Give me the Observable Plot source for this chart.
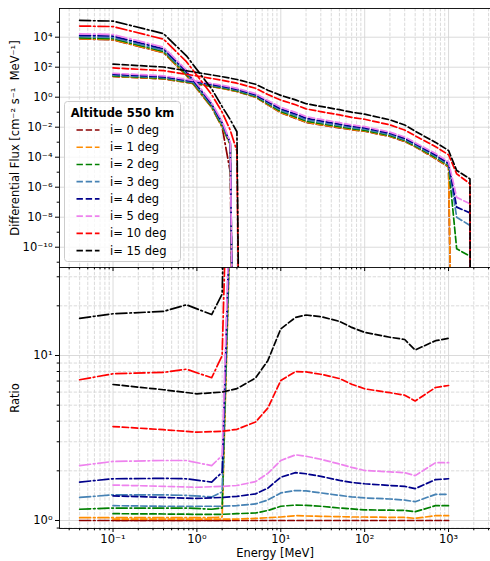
<!DOCTYPE html>
<html>
<head>
<meta charset="utf-8">
<script src="https://cdn.jsdelivr.net/npm/d3@7"></script>
<script src="https://cdn.jsdelivr.net/npm/@observablehq/plot@0.6"></script>
<style>
  body { margin: 0; background: #fff; }
  #fig { position: relative; width: 490px; height: 561px; overflow: hidden; background: #fff; font-family: "DejaVu Sans", sans-serif; }
  #fig > svg { position: absolute; left: 0; }
</style>
</head>
<body>
<div id="fig"></div>
<script>
// Inclinations and their colours
const inclinations = ["0", "1", "2", "3", "4", "5", "10", "15"];
const seriesColors = ["#8b0000", "#ff8c00", "#008000", "#4682b4", "#00008b", "#ee82ee", "#ff0000", "#000000"];
const legendTitle = "Altitude 550 km";

// Trapped electrons (dash-dot): energy grid [MeV], i = 0 flux, ratio to i = 0
const electronEnergy = [0.04, 0.1, 0.4, 0.75, 1.5, 2.0, 2.5];
const electronFlux0 = [7760, 6610, 933, 28.2, 0.204, 0.01, 1e-5];
const electronRatio = [
  [1, 1, 1, 1, 1, 1, 1],
  [1.04, 1.04, 1.04, 1.04, 1.04, 1.05, 63],
  [1.17, 1.19, 1.19, 1.19, 1.17, 1.19, 71],
  [1.38, 1.43, 1.43, 1.42, 1.39, 1.49, 79],
  [1.71, 1.79, 1.80, 1.79, 1.71, 1.96, 89],
  [2.15, 2.28, 2.31, 2.31, 2.15, 2.48, 100],
  [7.13, 7.75, 7.9, 8.26, 7.33, 10.0, 630],
  [16.8, 17.9, 18.5, 20.3, 17.7, 23.6, 3160]
];
// electron flux beyond the i = 0 cut-off (0 = no flux)
const electronTailEnergy = [3.0, 3.5];
const electronTail = [
  [0], [0], [0], [0], [0], [0],
  [2.5e-4, 0],
  [5e-3, 0]
];

// Trapped protons (dashed)
const protonEnergy = [0.1, 0.4, 1, 2, 3, 5, 7, 10, 15, 20, 30, 50, 70, 100, 200, 300, 400, 700, 1000];
const protonFlux0 = [24.0, 16.6, 7.59, 3.89, 2.40, 1.00, 0.316, 0.0912, 0.0389, 0.0209, 0.0141, 0.00912, 0.00676, 0.00537, 0.0024, 0.00112, 5.0e-4, 7.9e-5, 2.2e-5];
const protonRatio = [
  [1, 1, 1, 1, 1, 1, 1, 1, 1, 1, 1, 1, 1, 1, 1, 1, 1, 1, 1],
  [1.02, 1.02, 1.02, 1.02, 1.02, 1.03, 1.04, 1.05, 1.07, 1.065, 1.06, 1.055, 1.05, 1.05, 1.045, 1.045, 1.03, 1.07, 1.07],
  [1.10, 1.095, 1.09, 1.09, 1.10, 1.11, 1.15, 1.22, 1.24, 1.235, 1.22, 1.19, 1.175, 1.16, 1.155, 1.15, 1.13, 1.23, 1.23],
  [1.23, 1.22, 1.22, 1.22, 1.23, 1.26, 1.33, 1.47, 1.52, 1.51, 1.47, 1.42, 1.39, 1.37, 1.35, 1.33, 1.30, 1.44, 1.44],
  [1.41, 1.38, 1.36, 1.38, 1.40, 1.45, 1.57, 1.83, 1.95, 1.92, 1.85, 1.75, 1.70, 1.67, 1.63, 1.61, 1.56, 1.77, 1.79],
  [1.64, 1.61, 1.59, 1.61, 1.63, 1.72, 1.93, 2.31, 2.5, 2.45, 2.35, 2.2, 2.1, 2.01, 1.97, 1.95, 1.87, 2.24, 2.24],
  [3.71, 3.55, 3.43, 3.47, 3.57, 3.95, 4.8, 7.05, 8.0, 7.95, 7.7, 7.25, 6.7, 6.28, 5.95, 5.75, 5.3, 6.4, 6.58],
  [6.67, 6.2, 5.86, 6.0, 6.3, 7.3, 9.3, 14.5, 17.0, 17.6, 17.2, 16.1, 14.8, 13.8, 12.9, 12.5, 10.8, 12.3, 12.7]
];
// proton flux beyond the i = 0 cut-off (0 = no flux)
const protonTailEnergy = [1250, 1800, 1850];
const protonTail = [
  [0], [0],
  [7.8e-11, 2.5e-11, 0],
  [1.0e-8, 2.8e-9, 0],
  [4.7e-8, 1.95e-8, 0],
  [2.1e-7, 7.8e-8, 0],
  [7.8e-6, 1.7e-6, 0],
  [1.3e-5, 3.6e-6, 0]
];

// Axis ticks
const energyTicks = [0.1, 1, 10, 100, 1000];
const fluxTicks = [1e-10, 1e-8, 1e-6, 1e-4, 1e-2, 1, 1e2, 1e4];
const fluxMinorTicks = [1e-11, 1e-9, 1e-7, 1e-5, 1e-3, 1e-1, 1e1, 1e3, 1e5];
const ratioTicks = [1, 10];
const ratioMinorTicks = [0.9, 2, 3, 4, 5, 6, 7, 8, 9, 20, 30];

const xDomain = [10 ** -1.638, 10 ** 3.5];
const energyMinorTicks = [];
for (let p = -2; p <= 3; p++) for (let k = 2; k <= 9; k++) {
  const v = k * 10 ** p;
  if (v > xDomain[0] && v < xDomain[1]) energyMinorTicks.push(v);
}

const supMap = {"-": "⁻", "0": "⁰", "1": "¹", "2": "²", "3": "³", "4": "⁴", "5": "⁵", "6": "⁶", "7": "⁷", "8": "⁸", "9": "⁹"};
const pow10 = v => "10" + String(Math.round(Math.log10(v))).replace(/./g, c => supMap[c]);

const FLOOR = 1e-40; // zero flux drawn as a plunge off the log axis
const dashed = "6.4,2.8";
const dashDot = "11,2.8,1.7,2.8";
const gridColor = "#d6d6d6";
const lw = 1.7;

function fluxRows(energy, flux0, ratio, tailE, tail) {
  const rows = energy.map((e, j) => ({e, v: flux0[j] * ratio[j]}));
  tail.forEach((f, j) => rows.push({e: tailE[j], v: f}));
  return rows.map(r => ({e: r.e, v: Math.max(r.v, FLOOR)}));
}
function ratioRows(energy, ratio) {
  return energy.map((e, j) => ({e, v: ratio[j]}));
}

const fluxLines = [], ratioLines = [];
inclinations.forEach((inc, i) => {
  const stroke = seriesColors[i];
  fluxLines.push(
    Plot.line(fluxRows(electronEnergy, electronFlux0, electronRatio[i], electronTailEnergy, electronTail[i]),
      {x: "e", y: "v", stroke, strokeWidth: lw, strokeDasharray: dashDot, clip: true}),
    Plot.line(fluxRows(protonEnergy, protonFlux0, protonRatio[i], protonTailEnergy, protonTail[i]),
      {x: "e", y: "v", stroke, strokeWidth: lw, strokeDasharray: dashed, clip: true})
  );
  ratioLines.push(
    Plot.line(ratioRows(electronEnergy, electronRatio[i]),
      {x: "e", y: "v", stroke, strokeWidth: lw, strokeDasharray: dashDot, clip: true}),
    Plot.line(ratioRows(protonEnergy, protonRatio[i]),
      {x: "e", y: "v", stroke, strokeWidth: lw, strokeDasharray: dashed, clip: true})
  );
});

const style = {fontFamily: "DejaVu Sans", fontSize: "11.5px", color: "black", background: "transparent"};
const spine = {stroke: "black", strokeWidth: 0.9};

const xGrid = [
  Plot.ruleX(energyMinorTicks, {stroke: gridColor, strokeWidth: 0.9, strokeDasharray: "3.4,1.5"}),
  Plot.ruleX(energyTicks, {stroke: gridColor, strokeWidth: 0.9})
];

// Upper panel: differential flux
const fluxDomain = [10 ** -11.353, 10 ** 5.913];
const topPlot = Plot.plot({
  width: 490, height: 272, marginTop: 8, marginBottom: 5, marginLeft: 59, marginRight: 0,
  style,
  x: {type: "log", domain: xDomain, label: null},
  y: {type: "log", domain: fluxDomain, label: null},
  marks: [
    ...xGrid,
    Plot.ruleY(fluxTicks, {stroke: gridColor, strokeWidth: 0.9}),
    ...fluxLines,
    Plot.ruleX([xDomain[0]], spine),
    Plot.ruleY([fluxDomain[0], fluxDomain[1]], spine),
    Plot.axisX({ticks: energyTicks, tickSize: 4, tickFormat: () => "", label: null}),
    Plot.axisX({ticks: energyMinorTicks, tickSize: 2.3, tickFormat: () => "", label: null}),
    Plot.axisY({ticks: fluxTicks, tickSize: 4, tickPadding: 3, tickFormat: pow10, label: null}),
    Plot.axisY({ticks: fluxMinorTicks, tickSize: 2.3, tickFormat: () => "", label: null}),
    Plot.text(["Differential Flux [cm⁻² s⁻¹  MeV⁻¹]"],
      {text: d => d, frameAnchor: "left", dx: -44, rotate: -90, textAnchor: "middle", lineAnchor: "middle"})
  ]
});

// Lower panel: ratio to i = 0
const ratioDomain = [10 ** -0.0485, 10 ** 1.5333];
const bottomPlot = Plot.plot({
  width: 490, height: 294, marginTop: 0, marginBottom: 33, marginLeft: 59, marginRight: 0,
  style,
  x: {type: "log", domain: xDomain, label: null},
  y: {type: "log", domain: ratioDomain, label: null},
  marks: [
    ...xGrid,
    Plot.ruleY(ratioMinorTicks, {stroke: gridColor, strokeWidth: 0.9, strokeDasharray: "3.4,1.5"}),
    Plot.ruleY(ratioTicks, {stroke: gridColor, strokeWidth: 0.9}),
    ...ratioLines,
    Plot.ruleX([xDomain[0]], spine),
    Plot.ruleY([ratioDomain[0]], spine),
    Plot.axisX({ticks: energyTicks, tickSize: 4, tickPadding: 2, tickFormat: pow10, label: null}),
    Plot.axisX({ticks: energyMinorTicks, tickSize: 2.3, tickFormat: () => "", label: null}),
    Plot.axisY({ticks: ratioTicks, tickSize: 4, tickPadding: 3, tickFormat: pow10, label: null}),
    Plot.axisY({ticks: ratioMinorTicks, tickSize: 2.3, tickFormat: () => "", label: null}),
    Plot.text(["Ratio"],
      {text: d => d, frameAnchor: "left", dx: -44, rotate: -90, textAnchor: "middle", lineAnchor: "middle"}),
    Plot.text(["Energy [MeV]"],
      {text: d => d, frameAnchor: "bottom", dy: 25, textAnchor: "middle", lineAnchor: "middle"})
  ]
});

const fig = document.getElementById("fig");
bottomPlot.style.top = "267px";
topPlot.style.top = "0px";
fig.appendChild(bottomPlot);
fig.appendChild(topPlot);

// Legend
const legend = d3.create("svg")
  .attr("width", 118).attr("height", 162)
  .style("position", "absolute").style("left", "64px").style("top", "101px")
  .style("font-family", "DejaVu Sans").style("font-size", "11.5px");
legend.append("rect")
  .attr("x", 0.5).attr("y", 0.5).attr("width", 116).attr("height", 160).attr("rx", 3)
  .attr("fill", "white").attr("fill-opacity", 0.8).attr("stroke", "#cccccc");
legend.append("text")
  .attr("x", 58.5).attr("y", 11.5).attr("text-anchor", "middle").attr("dominant-baseline", "central")
  .attr("font-weight", "bold").text(legendTitle);
inclinations.forEach((inc, i) => {
  const y = 29 + i * 17.24;
  legend.append("line")
    .attr("x1", 12.5).attr("x2", 35.5).attr("y1", y).attr("y2", y)
    .attr("stroke", seriesColors[i]).attr("stroke-width", lw).attr("stroke-dasharray", dashed);
  legend.append("text")
    .attr("x", 46).attr("y", y).attr("dominant-baseline", "central")
    .text(`i= ${inc} deg`);
});
fig.appendChild(legend.node());
</script>
</body>
</html>
